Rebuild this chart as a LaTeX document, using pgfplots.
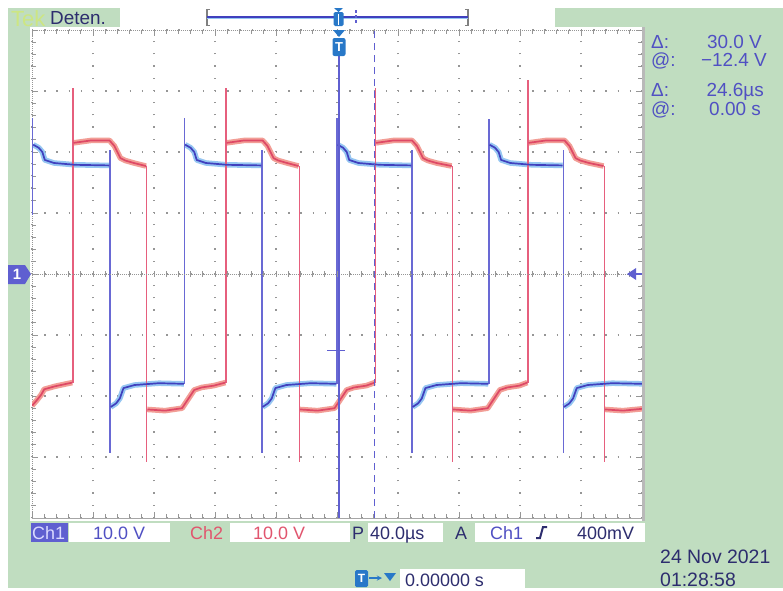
\documentclass[border=0pt]{standalone}
\usepackage{fontspec}
\setmainfont{Liberation Sans}
\usepackage{pgfplots}
\usepackage{pgfplotstable}
\pgfplotsset{compat=1.18}
\definecolor{scopegreen}{RGB}{192,221,192}
\definecolor{bdark}{RGB}{64,64,190}
\definecolor{bhalo}{RGB}{150,198,242}
\definecolor{bedge}{RGB}{105,105,212}
\definecolor{rdark}{RGB}{222,72,102}
\definecolor{rhalo}{RGB}{242,158,150}
\definecolor{redge}{RGB}{230,95,125}
\definecolor{curs}{RGB}{95,95,208}
\definecolor{txtblue}{RGB}{80,80,195}
\definecolor{txtred}{RGB}{225,85,110}
\definecolor{navy}{RGB}{45,45,110}
\definecolor{tekgreen}{RGB}{205,230,130}
\definecolor{tblue}{RGB}{40,120,200}
\definecolor{gridgray}{RGB}{150,150,150}
\newcommand\fs[1]{\fontsize{#1}{#1}\selectfont}

\pgfplotstableread{
x y
-4.98 2.12
-4.89 2.07
-4.83 2.00
-4.79 1.87
-4.64 1.82
-4.29 1.79
-3.73 1.78
-3.72 nan
-3.71 -2.18
-3.62 -2.12
-3.56 -2.04
-3.50 -1.87
-3.32 -1.82
-2.92 -1.79
-2.51 -1.80
-2.50 nan
-2.49 2.12
-2.40 2.07
-2.34 2.00
-2.30 1.87
-2.15 1.82
-1.80 1.79
-1.24 1.78
-1.23 nan
-1.22 -2.18
-1.13 -2.12
-1.07 -2.04
-1.01 -1.87
-0.83 -1.82
-0.43 -1.79
-0.01 -1.80
0 nan
0.01 2.12
0.10 2.07
0.16 2.00
0.20 1.87
0.35 1.82
0.70 1.79
1.22 1.78
1.23 nan
1.24 -2.18
1.33 -2.12
1.39 -2.04
1.45 -1.87
1.63 -1.82
2.03 -1.79
2.48 -1.80
2.49 nan
2.50 2.12
2.59 2.07
2.65 2.00
2.69 1.87
2.84 1.82
3.19 1.79
3.70 1.78
3.71 nan
3.72 -2.18
3.81 -2.12
3.87 -2.04
3.93 -1.87
4.11 -1.82
4.51 -1.79
5.00 -1.80
}\bluePlat

\pgfplotstableread{
x y
-4.99 0.97
-4.99 2.55
-4.99 nan
-3.72 2.03
-3.72 -2.93
-3.72 nan
-2.50 -1.80
-2.50 2.55
-2.50 nan
-1.23 2.03
-1.23 -2.93
-1.23 nan
0 -1.80
0 2.55
0 nan
1.23 2.03
1.23 -2.93
1.23 nan
2.49 -1.80
2.49 2.54
2.49 nan
3.71 2.03
3.71 -2.93
}\blueEdge

\pgfplotstableread{
x y
-5.00 -2.16
-4.93 -2.08
-4.85 -1.98
-4.80 -1.89
-4.62 -1.84
-4.34 -1.78
-4.33 nan
-4.32 2.15
-4.03 2.19
-3.73 2.19
-3.65 2.10
-3.55 1.90
-3.47 1.86
-3.33 1.82
-3.13 1.77
-3.12 nan
-3.11 -2.22
-2.82 -2.24
-2.54 -2.20
-2.44 -2.05
-2.34 -1.90
-2.22 -1.86
-2.02 -1.83
-1.83 -1.78
-1.82 nan
-1.81 2.15
-1.52 2.19
-1.22 2.19
-1.14 2.10
-1.04 1.90
-0.96 1.86
-0.82 1.82
-0.63 1.77
-0.62 nan
-0.61 -2.22
-0.32 -2.24
-0.04 -2.20
0.06 -2.05
0.16 -1.90
0.28 -1.86
0.48 -1.83
0.62 -1.78
0.63 nan
0.64 2.15
0.93 2.19
1.23 2.19
1.31 2.10
1.41 1.90
1.49 1.86
1.63 1.82
1.88 1.77
1.89 nan
1.90 -2.22
2.19 -2.24
2.47 -2.20
2.57 -2.05
2.67 -1.90
2.79 -1.86
2.99 -1.83
3.12 -1.78
3.13 nan
3.14 2.15
3.43 2.19
3.73 2.19
3.81 2.10
3.91 1.90
3.99 1.86
4.13 1.82
4.37 1.77
4.38 nan
4.39 -2.22
4.69 -2.24
5.00 -2.21
}\redPlat

\pgfplotstableread{
x y
-4.33 -1.78
-4.33 3.05
-4.33 nan
-3.12 1.77
-3.12 -3.08
-3.12 nan
-1.82 -1.78
-1.82 3.05
-1.82 nan
-0.62 1.77
-0.62 -3.08
-0.62 nan
0.63 -1.78
0.63 3.05
0.63 nan
1.89 1.77
1.89 -3.08
1.89 nan
3.13 -1.78
3.13 3.18
3.13 nan
4.38 1.77
4.38 -3.08
}\redEdge

\begin{document}
\begin{tikzpicture}
\begin{scope}[x=1bp,y=-1bp]
\fill[white] (0,0) rectangle (783,591);
\fill[scopegreen] (8,8) rectangle (783,588);
\fill[white] (30,27) rectangle (645,521);
\fill[white] (120,8) rectangle (555,27);
\end{scope}
\begin{axis}[
  at={(32bp,-518bp)}, anchor=south west,
  width=610bp, height=488bp, scale only axis,
  xmin=-5, xmax=5, ymin=-4, ymax=4,
  xtick={-5,-4,...,5}, ytick={-4,-3,...,4},
  xticklabels={}, yticklabels={},
  minor tick num=4,
  tick align=inside, xtick pos=both, ytick pos=both,
  major tick length=6bp, minor tick length=4bp,
  every tick/.style={gridgray, line width=0.8bp},
  axis line style={gridgray, line width=1bp, densely dotted},
  grid=major,
  major grid style={gridgray, line width=1.3bp, dash pattern=on 1.3bp off 10.9bp},
  unbounded coords=jump,
  clip=true,
]
\addplot[bhalo, line width=5.5bp, line join=round] table[x=x,y=y] {\bluePlat};
\addplot[rhalo, line width=5.5bp, line join=round] table[x=x,y=y] {\redPlat};
\addplot[bedge, line width=1.3bp] table[x=x,y=y] {\blueEdge};
\addplot[redge, line width=1.3bp] table[x=x,y=y] {\redEdge};
\addplot[bdark, line width=1.7bp, line join=round] table[x=x,y=y] {\bluePlat};
\addplot[rdark, line width=1.7bp, line join=round] table[x=x,y=y] {\redPlat};
\draw[curs, line width=1.3bp, dash pattern=on 7bp off 5bp] (axis cs:0.615,-4) -- (axis cs:0.615,4);
\draw[curs, line width=1.5bp] (axis cs:-0.16,-1.25) -- (axis cs:0.13,-1.25);
\end{axis}
\begin{scope}[x=1bp,y=-1bp]
% center line ticks
\draw[gridgray, line width=1bp, densely dotted] (32,274) -- (642,274);
\foreach \i in {1,...,49} {\draw[gridgray, line width=0.8bp] ({32+12.2*\i},271) -- ({32+12.2*\i},277);}
% cursor at trigger
\draw[curs, line width=1.3bp] (339,38) -- (339,518);
% right and bottom frame shade
\fill[gray!55] (642,27) rectangle (645,521);
\draw[gray!70, line width=1bp] (32,518.5) -- (642,518.5);
% trigger marker at top of graticule
\fill[tblue] (333,30) -- (345,30) -- (339,37) -- cycle;
\fill[tblue, rounded corners=2bp] (332.5,38) rectangle (345.5,56);
\node[white, font=\bfseries\fs{13}] at (339,47.5) {T};
% channel 1 marker
\fill[curs] (8,265) -- (25,265) -- (31,274) -- (25,284) -- (8,284) -- cycle;
\node[white, font=\bfseries\fs{15}] at (17,274.5) {1};
% right marker
\fill[curs] (627,274) -- (636,268) -- (636,280) -- cycle;
\draw[curs, line width=1.5bp] (636,274) -- (642,274);
% top bar
\node[anchor=base west, inner sep=0, text=tekgreen, font=\fs{22}] at (11,26) {Tek};
\node[anchor=base west, inner sep=0, text=navy, font=\fs{19}] at (50,24) {Deten.};
\draw[gray, line width=1.2bp] (210,9.5) -- (207,9.5) -- (207,25.5) -- (210,25.5);
\draw[gray, line width=1.2bp] (465,9.5) -- (468,9.5) -- (468,25.5) -- (465,25.5);
\draw[bdark, line width=1.2bp] (207,17) -- (468,17);
\draw[bhalo, line width=0.8bp] (207,18.6) -- (468,18.6);
\draw[curs, line width=1.2bp, dash pattern=on 3bp off 2bp] (356,10) -- (356,25);
\fill[tblue] (334,8) -- (343,8) -- (338.5,12) -- cycle;
\fill[tblue, rounded corners=1.5bp] (333.5,12) rectangle (343.5,26);
\draw[white, line width=1.3bp] (338.5,14) -- (338.5,25);
% readouts
\node[anchor=base west, inner sep=0, text=txtblue, font=\fs{19}] at (651,48) {Δ:};
\node[anchor=base west, inner sep=0, text=txtblue, font=\fs{19}] at (651,66) {@:};
\node[anchor=base west, inner sep=0, text=txtblue, font=\fs{19}] at (651,96) {Δ:};
\node[anchor=base west, inner sep=0, text=txtblue, font=\fs{19}] at (651,115) {@:};
\node[anchor=base east, inner sep=0, text=txtblue, font=\fs{19}] at (762,48) {30.0 V};
\node[anchor=base east, inner sep=0, text=txtblue, font=\fs{19}] at (767,66) {−12.4 V};
\node[anchor=base east, inner sep=0, text=txtblue, font=\fs{19}] at (764,96) {24.6µs};
\node[anchor=base east, inner sep=0, text=txtblue, font=\fs{19}] at (761,115) {0.00 s};
% bottom bar
\fill[curs] (31,523) rectangle (68,542);
\node[anchor=base west, inner sep=0, text=white!85!blue, font=\fs{18}] at (32,539) {Ch1};
\fill[white] (69,523) rectangle (170,542);
\node[anchor=base west, inner sep=0, text=txtblue, font=\fs{18}] at (93,539) {10.0 V};
\node[anchor=base west, inner sep=0, text=txtred, font=\fs{18}] at (190,539) {Ch2};
\fill[white] (230,523) rectangle (350,542);
\node[anchor=base west, inner sep=0, text=txtred, font=\fs{18}] at (253,539) {10.0 V};
\node[anchor=base west, inner sep=0, text=navy, font=\fs{18}] at (352,539) {P};
\fill[white] (368,523) rectangle (443,542);
\node[anchor=base west, inner sep=0, text=navy, font=\fs{18}] at (370,539) {40.0µs};
\node[anchor=base west, inner sep=0, text=navy, font=\fs{18}] at (455,539) {A};
\fill[white] (475,523) rectangle (645,542);
\node[anchor=base west, inner sep=0, text=txtblue, font=\fs{18}] at (490,539) {Ch1};
\draw[navy, line width=2bp] (536,538) -- (540,538) -- (543,527) -- (547,527);
\node[anchor=base west, inner sep=0, text=navy, font=\fs{18}] at (577,539) {400mV};
\node[anchor=base west, inner sep=0, text=navy, font=\fs{19.5}] at (660,563) {24 Nov 2021};
\node[anchor=base west, inner sep=0, text=navy, font=\fs{19.5}] at (660,586) {01:28:58};
\fill[tblue, rounded corners=1.5bp] (355,570) rectangle (368,587);
\node[white, font=\bfseries\fs{12}] at (361.5,578.5) {T};
\draw[tblue, line width=1.3bp, -stealth] (369,578) -- (382,578);
\fill[tblue] (384,573) -- (396,573) -- (390,581) -- cycle;
\fill[white] (400,569) rectangle (525,588);
\node[anchor=base west, inner sep=0, text=navy, font=\fs{18}] at (405,586) {0.00000 s};
\end{scope}
\pgfresetboundingbox
\path[use as bounding box] (0,0) rectangle (783bp,-591bp);
\end{tikzpicture}
\end{document}
